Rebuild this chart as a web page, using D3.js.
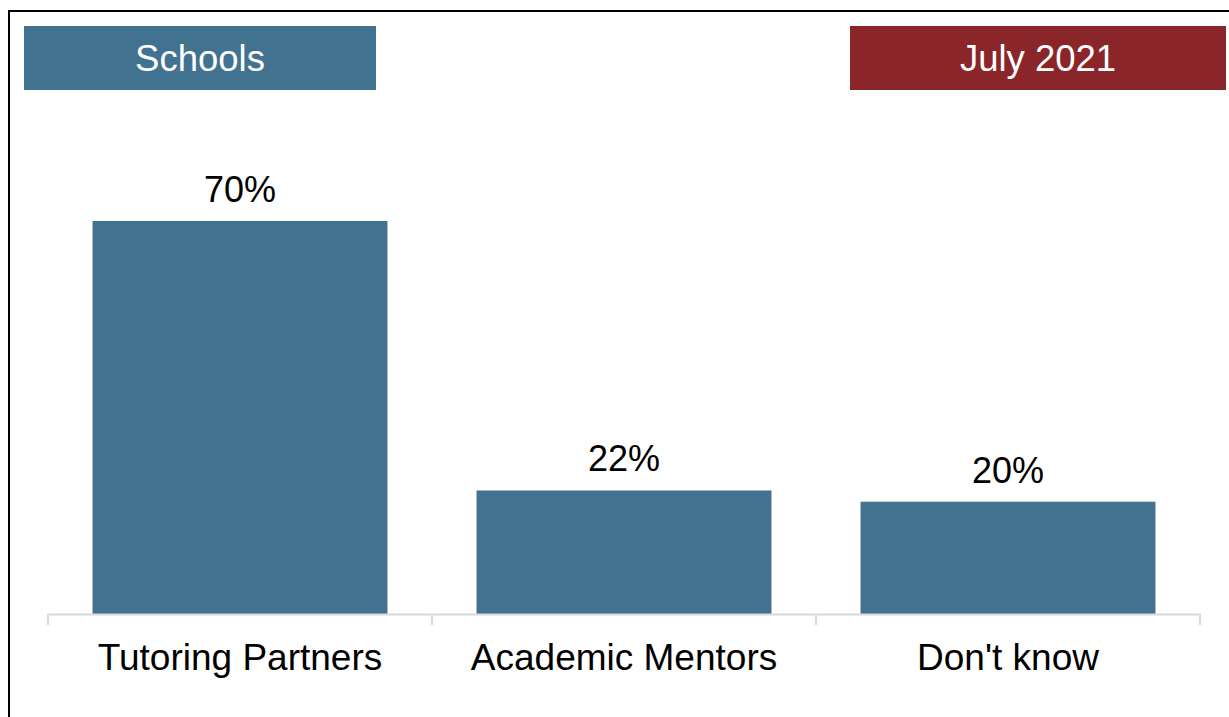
<!DOCTYPE html>
<html>
<head>
<meta charset="utf-8">
<script src="https://cdn.jsdelivr.net/npm/d3@7"></script>
<style>
  body { margin: 0; background: #fff; }
  svg { display: block; font-family: "Liberation Sans", Arial, sans-serif; }
</style>
</head>
<body>
<div id="chart"></div>
<script>
// data
var categories = ["Tutoring Partners", "Academic Mentors", "Don't know"];
var values = [70, 22, 20];
var valueLabels = ["70%", "22%", "20%"];
var leftTitle = "Schools";
var rightTitle = "July 2021";

// settings
var svgWidth = 1229;
var svgHeight = 717;
var barColor = "#41728f";
var redColor = "#8a252a";
var axisColor = "#d9d9d9";
var fontSize = 36;

var svg = d3.select("#chart")
  .append("svg")
  .attr("width", svgWidth)
  .attr("height", svgHeight);

// outer frame (runs off the right and bottom edge)
svg.append("rect")
  .attr("x", 9)
  .attr("y", 11)
  .attr("width", svgWidth + 20)
  .attr("height", svgHeight + 20)
  .attr("fill", "none")
  .attr("stroke", "#000")
  .attr("stroke-width", 2);

// header boxes
var headers = [
  { text: leftTitle, x: 24, w: 352, color: barColor },
  { text: rightTitle, x: 850, w: 376, color: redColor }
];
headers.forEach(function (h) {
  svg.append("rect")
    .attr("x", h.x)
    .attr("y", 26)
    .attr("width", h.w)
    .attr("height", 64)
    .attr("fill", h.color);
  svg.append("text")
    .attr("x", h.x + h.w / 2)
    .attr("y", 71)
    .attr("text-anchor", "middle")
    .attr("font-size", "36.5px")
    .attr("fill", "#fff")
    .text(h.text);
});

// scales
var x = d3.scaleBand()
  .domain(categories)
  .range([48, 1200])
  .paddingInner(0.232)
  .paddingOuter(0.116);

var y = d3.scaleLinear()
  .domain([0, 100])
  .range([614, 52.6]);

// bars
svg.selectAll(".bar")
  .data(values)
  .enter()
  .append("rect")
  .attr("class", "bar")
  .attr("x", (d, i) => x(categories[i]))
  .attr("y", d => y(d))
  .attr("width", x.bandwidth())
  .attr("height", d => y(0) - y(d))
  .attr("fill", barColor);

// value labels
svg.selectAll(".val")
  .data(values)
  .enter()
  .append("text")
  .attr("class", "val")
  .attr("x", (d, i) => x(categories[i]) + x.bandwidth() / 2)
  .attr("y", d => y(d) - 19)
  .attr("text-anchor", "middle")
  .attr("font-size", fontSize + "px")
  .attr("fill", "#000")
  .text((d, i) => valueLabels[i]);

// x axis
var xAxis = svg.append("g")
  .attr("transform", `translate(0, ${y(0)})`)
  .call(d3.axisBottom(x).tickSize(0).tickSizeOuter(0));

xAxis.select(".domain")
  .attr("stroke", axisColor)
  .attr("stroke-width", 2);

xAxis.selectAll(".tick text")
  .attr("y", 56)
  .attr("dy", 0)
  .attr("font-size", "37px")
  .attr("font-family", "Liberation Sans, Arial, sans-serif")
  .attr("fill", "#000");

// category separators
var edges = categories.map(c => x(c) - x.step() * x.paddingInner() / 2);
edges.push(x.range()[1]);
edges[0] = x.range()[0];
xAxis.selectAll(".sep")
  .data(edges)
  .enter()
  .append("line")
  .attr("class", "sep")
  .attr("x1", d => d)
  .attr("x2", d => d)
  .attr("y1", 0)
  .attr("y2", 11)
  .attr("stroke", axisColor)
  .attr("stroke-width", 2);
</script>
</body>
</html>
